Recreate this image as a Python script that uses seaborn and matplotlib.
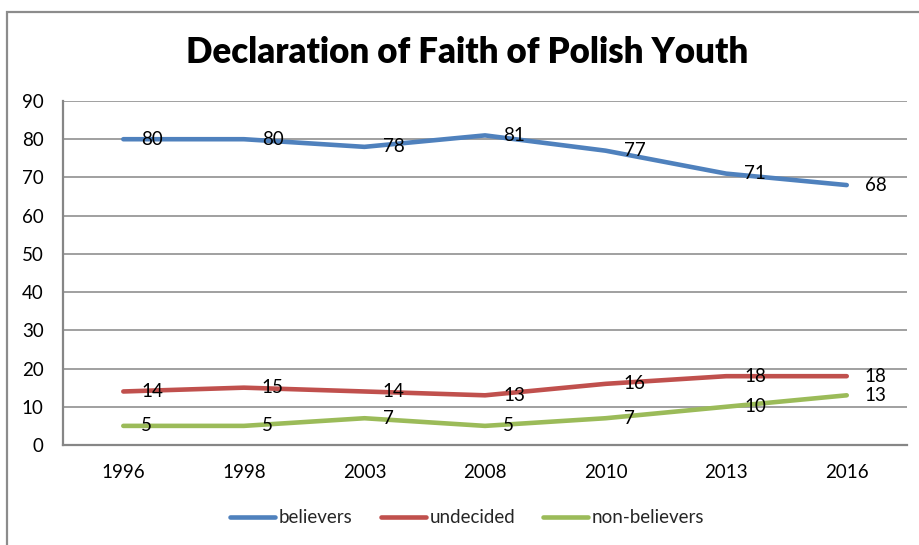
import pandas as pd
import matplotlib.pyplot as plt
import seaborn as sb
from matplotlib.patches import Rectangle

# DATA
#----------------------------------------------------
years = ["1996", "1998", "2003", "2008", "2010", "2013", "2016"]
believers = [80, 80, 78, 81, 77, 71, 68]
undecided = [14, 15, 14, 13, 16, 18, 18]
non_believers = [5, 5, 7, 5, 7, 10, 13]
series_names = ["believers", "undecided", "non-believers"]
colors = ["#4F81BD", "#C0504D", "#9BBB59"]

# BUILD FRAME
#----------------------------------------------------
df = pd.DataFrame({
    "year": years * 3,
    "value": believers + undecided + non_believers,
    "group": [n for n in series_names for _ in years],
})

# PLOT
#----------------------------------------------------
sb.set_style("white")
plt.rcParams["font.family"] = ["Lato", "DejaVu Sans"]

fig = plt.figure(figsize=(9.2, 5.45), dpi=100)
ax = fig.add_axes([0.0685, 0.1835, 0.9174, 0.6312])

sb.lineplot(data=df, x="year", y="value", hue="group", palette=colors,
            linewidth=3.3, ax=ax, sort=False, legend=False,
            solid_capstyle="round")

for name, vals in zip(series_names, [believers, undecided, non_believers]):
    for i, v in enumerate(vals):
        ax.annotate(str(v), (i, v), xytext=(13, 0), textcoords="offset points",
                    ha="left", va="center", fontsize=13.5, color="black")

ax.set_xlim(-0.5, len(years) - 0.5)
ax.set_ylim(0, 90)
ax.set_yticks(range(0, 91, 10))
ax.set_xlabel("")
ax.set_ylabel("")
ax.tick_params(axis="both", length=0, labelsize=13.5, colors="black")
ax.tick_params(axis="y", pad=14)
ax.tick_params(axis="x", pad=14)
ax.grid(axis="y", color="#868686", linewidth=1.1)
ax.set_axisbelow(True)
for s in ["top", "right"]:
    ax.spines[s].set_visible(False)
for s in ["left", "bottom"]:
    ax.spines[s].set_color("#868686")
    ax.spines[s].set_linewidth(1.6)

handles = [plt.Line2D([], [], color=c, linewidth=3.3, solid_capstyle="round") for c in colors]
fig.legend(handles, series_names, loc="center", bbox_to_anchor=(0.508, 0.05),
           ncol=3, frameon=False, fontsize=13.5, handlelength=2.4,
           handletextpad=0.2, columnspacing=1.5)

fig.text(0.508, 0.903, "Declaration of Faith of Polish Youth", ha="center",
         va="center", fontsize=25, fontweight="heavy", color="black")

fig.patches.append(Rectangle((0.0076, -0.1), 1.2, 1.078, transform=fig.transFigure,
                             fill=False, edgecolor="#8c8c8c", linewidth=1.6))

plt.savefig("out.png", dpi=100)
